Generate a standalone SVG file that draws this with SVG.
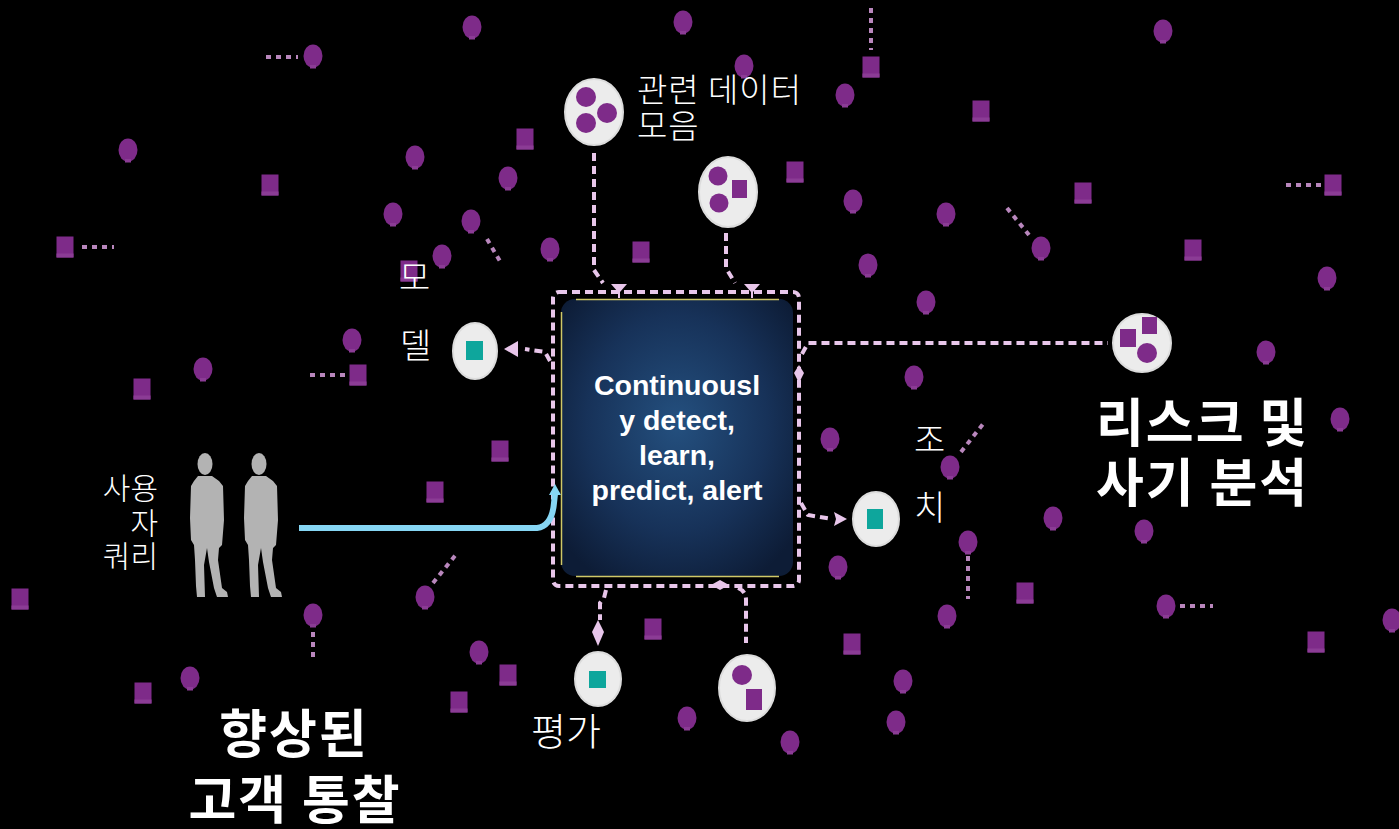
<svg xmlns="http://www.w3.org/2000/svg" xmlns:xlink="http://www.w3.org/1999/xlink" width="1399" height="829" viewBox="0 0 1399 829">
  <style>
    .dot{fill:#7e2b89}
    .nub{fill:#8b3c95}
    .stub{stroke:#b987bd;stroke-width:4;stroke-dasharray:5 5;fill:none}
    .link{stroke:#e8c6ea;stroke-width:4;stroke-dasharray:8 5;fill:none}
    .tip{fill:#e8c6ea}
    .bubble{fill:#ececec;stroke:#dcdcdc;stroke-width:2}
    .teal{fill:#0ea69c}
    .lbl{font-family:"Noto Sans CJK KR","Noto Sans",sans-serif;fill:#ffffff;font-weight:300}
    .big{font-family:"Noto Sans CJK KR","Noto Sans",sans-serif;fill:#ffffff;font-weight:700;font-size:52px;letter-spacing:2px}
    .core{font-family:"Liberation Sans",Arial,sans-serif;fill:#ffffff;font-weight:700;font-size:28.5px}
    .person{fill:#b3b3b3}
  </style>
  <defs>
    <radialGradient id="coreFill" cx="50%" cy="45%" r="65%">
      <stop offset="0" stop-color="#24507f"/>
      <stop offset="0.6" stop-color="#173259"/>
      <stop offset="1" stop-color="#0d1c36"/>
    </radialGradient>
    <!-- scattered data point: round -->
    <g id="d">
      <ellipse cx="0" cy="0" rx="9.5" ry="11.5" class="dot"/>
      <rect x="-3" y="9" width="6" height="3.5" class="nub"/>
    </g>
    <!-- scattered data point: square -->
    <g id="s">
      <rect x="-8.5" y="-10.5" width="17" height="21" class="dot"/>
      <rect x="-8.5" y="6.5" width="17" height="4" class="nub"/>
    </g>
    <!-- standing person silhouette -->
    <g id="person">
      <ellipse cx="15" cy="11" rx="7.5" ry="11" class="person"/>
      <path class="person" d="M8,23 L22,23 L29,28 L33,33 L34,67 L32,92 L29,95 L28,107 L32,135 L37,139 L38,144 L27,144 L24,135 L19,109 L17,95 L14,112 L15,144 L7,144 L6,133 L5,107 L4,92 L1,87 L0,65 L1,33 L4,28 Z"/>
    </g>
  </defs>

  <rect x="0" y="0" width="1399" height="829" fill="#000000"/>

  <!-- background data points -->
  <g id="scatter">
    <path class="stub" d="M266,57 H298"/>
    <path class="stub" d="M871,8 V50"/>
    <path class="stub" d="M1286,185 H1322"/>
    <path class="stub" d="M82,247 H114"/>
    <path class="stub" d="M310,375 H345"/>
    <path class="stub" d="M487,239 L501,263"/>
    <path class="stub" d="M1007,208 L1029,235"/>
    <path class="stub" d="M961,452 L983,424"/>
    <path class="stub" d="M968,556 V599"/>
    <path class="stub" d="M433,583 L458,552"/>
    <path class="stub" d="M313,632 V662"/>
    <path class="stub" d="M1180,606 H1213"/>

    <use href="#d" x="472" y="27"/>
    <use href="#d" x="683" y="22"/>
    <use href="#d" x="313" y="56"/>
    <use href="#d" x="744" y="66"/>
    <use href="#d" x="1163" y="31"/>
    <use href="#d" x="128" y="150"/>
    <use href="#d" x="415" y="157"/>
    <use href="#d" x="508" y="178"/>
    <use href="#d" x="845" y="95"/>
    <use href="#d" x="393" y="214"/>
    <use href="#d" x="471" y="221"/>
    <use href="#d" x="550" y="249"/>
    <use href="#d" x="442" y="256"/>
    <use href="#d" x="853" y="201"/>
    <use href="#d" x="946" y="214"/>
    <use href="#d" x="1041" y="248"/>
    <use href="#d" x="868" y="265"/>
    <use href="#d" x="926" y="302"/>
    <use href="#d" x="1327" y="278"/>
    <use href="#d" x="352" y="340"/>
    <use href="#d" x="203" y="369"/>
    <use href="#d" x="914" y="377"/>
    <use href="#d" x="1266" y="352"/>
    <use href="#d" x="830" y="439"/>
    <use href="#d" x="950" y="467"/>
    <use href="#d" x="1340" y="419"/>
    <use href="#d" x="1144" y="531"/>
    <use href="#d" x="1053" y="518"/>
    <use href="#d" x="968" y="542"/>
    <use href="#d" x="838" y="567"/>
    <use href="#d" x="425" y="597"/>
    <use href="#d" x="313" y="615"/>
    <use href="#d" x="947" y="616"/>
    <use href="#d" x="1166" y="606"/>
    <use href="#d" x="1392" y="620"/>
    <use href="#d" x="190" y="678"/>
    <use href="#d" x="479" y="652"/>
    <use href="#d" x="903" y="681"/>
    <use href="#d" x="896" y="722"/>
    <use href="#d" x="687" y="718"/>
    <use href="#d" x="790" y="742"/>

    <use href="#s" x="871" y="67"/>
    <use href="#s" x="525" y="139"/>
    <use href="#s" x="270" y="185"/>
    <use href="#s" x="795" y="172"/>
    <use href="#s" x="641" y="252"/>
    <use href="#s" x="981" y="111"/>
    <use href="#s" x="1083" y="193"/>
    <use href="#s" x="1333" y="185"/>
    <use href="#s" x="65" y="247"/>
    <use href="#s" x="1193" y="250"/>
    <use href="#s" x="409" y="271"/>
    <use href="#s" x="142" y="389"/>
    <use href="#s" x="358" y="375"/>
    <use href="#s" x="500" y="451"/>
    <use href="#s" x="435" y="492"/>
    <use href="#s" x="1025" y="593"/>
    <use href="#s" x="20" y="599"/>
    <use href="#s" x="653" y="629"/>
    <use href="#s" x="852" y="644"/>
    <use href="#s" x="1316" y="642"/>
    <use href="#s" x="143" y="693"/>
    <use href="#s" x="508" y="675"/>
    <use href="#s" x="459" y="702"/>
  </g>

  <!-- connectors -->
  <g id="connectors">
    <rect class="link" x="553" y="292" width="246" height="294" rx="6"/>
    <!-- inputs from the data bubbles -->
    <path class="link" d="M594,153 V270 L603,283"/>
    <path class="tip" d="M611,284 L627,284 L620,292 L620,298 L618,298 L618,292 Z"/>
    <path class="link" d="M726,233 V268 L735,283"/>
    <path class="tip" d="M744,284 L760,284 L753,292 L753,298 L751,298 L751,292 Z"/>
    <!-- to risk and fraud analysis -->
    <path class="link" d="M802,354 L808,343 H1108"/>
    <path class="tip" d="M799,365 L804,373 L799,383 L794,373 Z"/>
    <!-- to model -->
    <path class="link" d="M550,361 L545,352 L525,349"/>
    <path class="tip" d="M504,349 L518,341 L518,357 Z"/>
    <!-- to action -->
    <path class="link" d="M801,503 L808,515 L832,519"/>
    <path class="tip" d="M847,519 L834,512 L836,519 L834,526 Z"/>
    <!-- to evaluation -->
    <path class="link" d="M606,590 L604,598 L600,603 V620"/>
    <path class="tip" d="M598,620 L604,632 L598,646 L592,632 Z"/>
    <!-- to lower bubble -->
    <path class="link" d="M738,588 Q746,591 746,600 V643"/>
    <path class="tip" d="M711,585 L720,580 L729,585 L720,590 Z"/>
    <!-- user query line -->
    <path d="M299,528 H537 Q552,526 554,503 L555,494" fill="none" stroke="#86d6f4" stroke-width="6"/>
    <path d="M555,484 L561,495 L549,495 Z" fill="#86d6f4"/>
  </g>

  <!-- central engine -->
  <g id="core">
    <rect x="561" y="299" width="232" height="277" rx="14" fill="url(#coreFill)"/>
    <path d="M576,299.5 H779 M576,576.5 H779 M561.5,312 V565" stroke="#cfc867" stroke-width="1.5" fill="none"/>
    <text class="core" text-anchor="middle" x="677" y="395">Continuousl</text>
    <text class="core" text-anchor="middle" x="677" y="430">y detect,</text>
    <text class="core" text-anchor="middle" x="677" y="465">learn,</text>
    <text class="core" text-anchor="middle" x="677" y="500">predict, alert</text>
  </g>

  <!-- related data collection -->
  <g id="data-collection">
    <ellipse class="bubble" cx="594" cy="112" rx="29" ry="33"/>
    <circle class="dot" cx="586" cy="97" r="10"/>
    <circle class="dot" cx="607" cy="113" r="10"/>
    <circle class="dot" cx="586" cy="123" r="10"/>
    <text class="lbl" x="637" y="102" font-size="33" letter-spacing="1">관련 데이터</text>
    <text class="lbl" x="637" y="138" font-size="33" letter-spacing="1">모음</text>
  </g>

  <g id="data-source">
    <ellipse class="bubble" cx="728" cy="192" rx="29" ry="35"/>
    <circle class="dot" cx="718" cy="176" r="9.5"/>
    <circle class="dot" cx="719" cy="203" r="9.5"/>
    <rect class="dot" x="732" y="180" width="15" height="18"/>
  </g>

  <!-- model -->
  <g id="model">
    <ellipse class="bubble" cx="475" cy="351" rx="22" ry="28"/>
    <rect class="teal" x="466" y="341" width="17" height="19"/>
    <text class="lbl" x="399" y="290" font-size="34">모</text>
    <text class="lbl" x="400" y="358" font-size="34">델</text>
  </g>

  <!-- action -->
  <g id="action">
    <ellipse class="bubble" cx="876" cy="519" rx="23" ry="27"/>
    <rect class="teal" x="867" y="509" width="16" height="20"/>
    <text class="lbl" x="914" y="452" font-size="34">조</text>
    <text class="lbl" x="914" y="520" font-size="34">치</text>
  </g>

  <!-- evaluation -->
  <g id="evaluation">
    <ellipse class="bubble" cx="598" cy="679" rx="23" ry="27"/>
    <rect class="teal" x="589" y="671" width="17" height="17"/>
    <text class="lbl" x="531" y="745" font-size="38">평가</text>
  </g>

  <g id="data-output">
    <ellipse class="bubble" cx="747" cy="688" rx="28" ry="33"/>
    <circle class="dot" cx="742" cy="675" r="10"/>
    <rect class="dot" x="746" y="689" width="16" height="21"/>
  </g>

  <!-- risk and fraud analysis -->
  <g id="risk-fraud">
    <ellipse class="bubble" cx="1142" cy="343" rx="29" ry="29"/>
    <rect class="dot" x="1120" y="329" width="16" height="18"/>
    <rect class="dot" x="1142" y="317" width="15" height="17"/>
    <circle class="dot" cx="1147" cy="353" r="10"/>
    <text class="big" x="1096" y="442">리스크 및</text>
    <text class="big" x="1096" y="502">사기 분석</text>
  </g>

  <!-- user query -->
  <g id="user-query">
    <use href="#person" x="190" y="453"/>
    <use href="#person" x="244" y="453"/>
    <text class="lbl" text-anchor="end" x="158" y="499" font-size="30">사용</text>
    <text class="lbl" text-anchor="end" x="158" y="534" font-size="30">자</text>
    <text class="lbl" text-anchor="end" x="158" y="567" font-size="30">쿼리</text>
  </g>

  <!-- customer insight -->
  <g id="customer-insight">
    <text class="big" text-anchor="middle" x="294" y="753">향상된</text>
    <text class="big" text-anchor="middle" x="295" y="819">고객 통찰</text>
  </g>
</svg>
